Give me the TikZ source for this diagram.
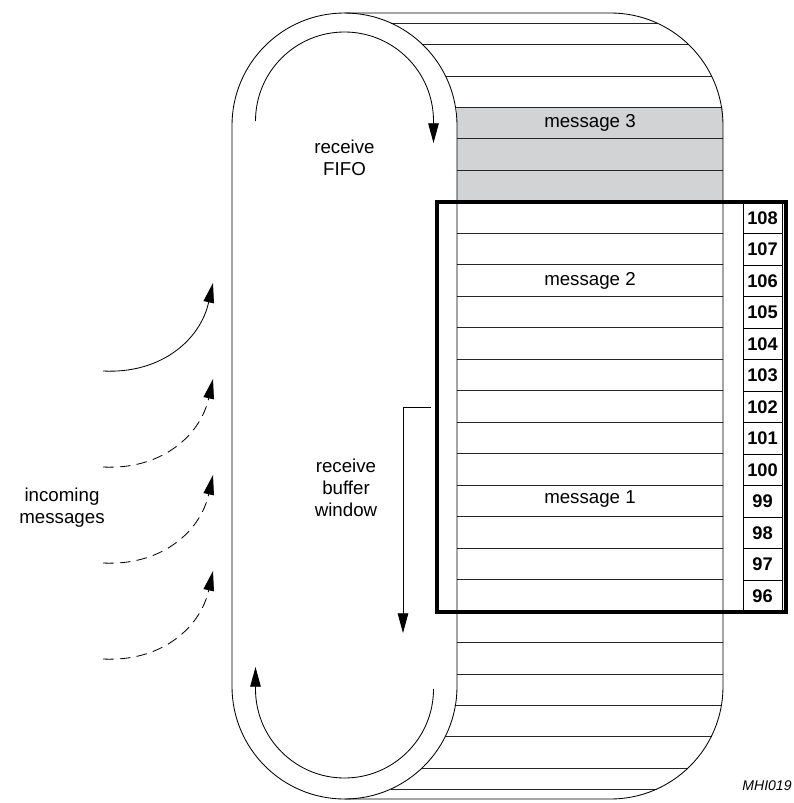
\documentclass[tikz,border=0pt]{standalone}
\usepackage{fontspec}
\setmainfont{Liberation Sans}
\usetikzlibrary{arrows.meta}
\definecolor{fifogray}{RGB}{209,211,212}

\begin{document}
\begin{tikzpicture}[x=0.025cm, y=-0.025cm, line width=0.6pt,
  flow/.style={-{Triangle[length=14pt,width=7.5pt]}},
  msgdash/.style={dash pattern=on 7.5pt off 4.5pt},
  rowline/.style={black!85},
  lbl/.style={font=\fontsize{13.3}{15.6}\selectfont, align=center},
  num/.style={font=\fontsize{13}{15}\selectfont\bfseries}]
  \useasboundingbox (0,0) rectangle (794,803);
  \def\R{112.5}
  % filled slots of the FIFO
  \fill[fifogray] (457,107) rectangle (723,202);
  % slot lines round the drum
  \foreach \y in {23,44,76,107,138.5,...,705.5,736,768,789} {
    \pgfmathsetmacro\dy{max(125.5-\y,\y-686.5,0)}
    \pgfmathsetmacro\d{sqrt(12656.25-\dy*\dy)}
    \draw[rowline] (344.5+\d,\y) -- (610.5+\d,\y);
  }
  % front end of the drum
  \draw (457,125.5) -- (457,686.5) arc[start angle=0, end angle=180, radius=\R]
    -- (232,125.5) arc[start angle=180, end angle=360, radius=\R] -- cycle;
  % back end of the drum
  \draw (344.5,13) -- (610.5,13) arc[start angle=270, end angle=360, radius=\R]
    -- (723,686.5) arc[start angle=0, end angle=90, radius=\R] -- (344.5,799);
  % circulation inside the FIFO
  \coordinate (topIn) at (255.5,121);
  \coordinate (topOut) at (433.5,143);
  \coordinate (botIn) at (433.5,689);
  \coordinate (botOut) at (255.5,667);
  \draw[flow] (topIn) arc[start angle=180, end angle=360, radius=89] -- (topOut);
  \draw[flow] (botIn) arc[start angle=0, end angle=180, radius=89] -- (botOut);
  % receive buffer window
  \draw[line width=2.6pt] (437,202) rectangle (786,612);
  \draw (743,202) rectangle (782,612);
  \foreach \k in {1,...,12}
    \draw (743,202+31.5*\k) -- (782,202+31.5*\k);
  \foreach \n [count=\k from 0] in {108,107,...,96}
    \node[num] (slot\n) at (762.5,217.75+31.5*\k) {\n};
  \coordinate (winTop) at (431,407);
  \coordinate (winBend) at (403,407);
  \coordinate (winEnd) at (403,633);
  \draw[flow] (winTop) -- (winBend) -- (winEnd);
  % labels
  \node[lbl] (fifo) at (344.5,158) {receive\\FIFO};
  \node[lbl] (window) at (346,488) {receive\\buffer\\window};
  \node[lbl] (msg3) at (590,123) {message 3};
  \node[lbl] (msg2) at (590,281) {message 2};
  \node[lbl] (msg1) at (590,499) {message 1};
  \node[lbl] (incoming) at (62,508) {incoming\\messages};
  \node[font=\fontsize{10}{12}\selectfont\itshape] (fig) at (767,786) {MHI019};
  % incoming messages
  \coordinate (src1) at (103,371);
  \coordinate (dst1) at (213,283);
  \draw[flow] (src1) .. controls +(57,3) and +(-13,58) .. (dst1);
  \foreach \i/\y in {2/467,3/563,4/659} {
    \coordinate (src\i) at (103,\y);
    \coordinate (dst\i) at (213,\y-88);
    \draw[flow,msgdash] (src\i) .. controls +(57,3) and +(-13,58) .. (dst\i);
  }
\end{tikzpicture}
\end{document}
